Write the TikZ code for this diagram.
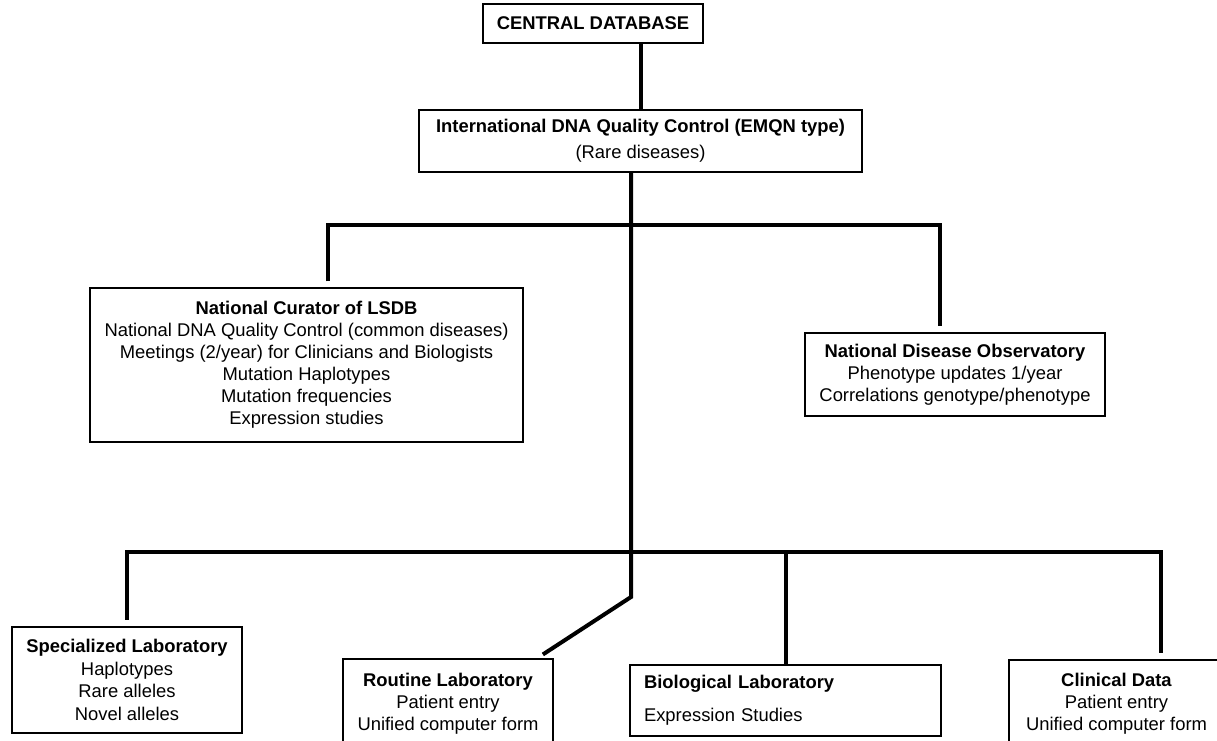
\documentclass[tikz,border=0pt]{standalone}
\usepackage{fontspec}
\setmainfont{Liberation Sans}

\begin{document}
\begin{tikzpicture}[x=0.75pt,y=0.75pt,yscale=-1,xscale=1,
  box/.style={draw, line width=0.8pt, inner sep=0pt, align=center,
    font=\fontsize{13.8}{16.5}\selectfont},
  link/.style={line width=3pt}]
%set diagram left start at 0, and has height of 740
\useasboundingbox (0,0) rectangle (1217,740);

%Shape: Rectangle [id:cdb]
\node[box, minimum width=165pt, minimum height=29.25pt] (cdb) at (593,23.5) {\textbf{CENTRAL DATABASE}};
%Shape: Rectangle [id:intl]
\node[box, minimum width=332.25pt, minimum height=46.5pt] (intl) at (640.5,141)
  {\textbf{International DNA Quality Control (EMQN type)}\\[3pt](Rare diseases)};
%Shape: Rectangle [id:cur]
\node[box, minimum width=324.75pt, minimum height=115.5pt] (cur) at (306.5,365)
  {\textbf{National Curator of LSDB}\\National DNA Quality Control (common diseases)\\
   Meetings (2/year) for Clinicians and Biologists\\Mutation Haplotypes\\
   Mutation frequencies\\Expression studies};
%Shape: Rectangle [id:obs]
\node[box, minimum width=225pt, minimum height=62.25pt] (obs) at (955,374.5)
  {\textbf{National Disease Observatory}\\Phenotype updates 1/year\\Correlations genotype/phenotype};
%Shape: Rectangle [id:spec]
\node[box, minimum width=172.5pt, minimum height=79.5pt] (spec) at (127,680)
  {\textbf{Specialized Laboratory}\\[0.5pt]Haplotypes\\[0.5pt]Rare alleles\\[0.5pt]Novel alleles};
%Shape: Rectangle [id:rout]
\node[box, minimum width=157.5pt, minimum height=66.75pt] (rout) at (448,703.5)
  {\textbf{Routine Laboratory}\\Patient entry\\Unified computer form};
%Shape: Rectangle [id:bio]
\node[box, align=left, text width=212.25pt, inner xsep=10.5pt, minimum height=53.25pt] (bio) at (785.5,700.5)
  {\textbf{Biological Laboratory}\\[8pt]Expression Studies};
%Shape: Rectangle [id:clin]
\node[box, minimum width=161.25pt, minimum height=66pt] (clin) at (1116.5,704)
  {\textbf{Clinical Data}\\Patient entry\\Unified computer form};

% Connector points
\coordinate (hub) at (631,225);
\coordinate (bend) at (631,597);
\coordinate (curtop) at (328,288);
\coordinate (obstop) at (940,333);
\coordinate (lbar) at (631,552);
\coordinate (clintop) at (1161,660);

%Straight Lines
\draw[link] (intl.north) -- (intl.north |- cdb.south);
\draw[link] (intl.south -| hub) -- (bend) -- ([xshift=-8pt,yshift=-3pt]rout.north east);
\draw[link, shorten <=5pt, shorten >=5pt] (curtop) -- (curtop |- hub) -- (obstop |- hub) -- (obstop);
\draw[link, shorten <=5pt, shorten >=5pt] (spec.north) -- (spec.north |- lbar) -- (clintop |- lbar) -- (clintop);
\draw[link] (bio.north) -- (bio.north |- lbar);

\end{tikzpicture}
\end{document}
